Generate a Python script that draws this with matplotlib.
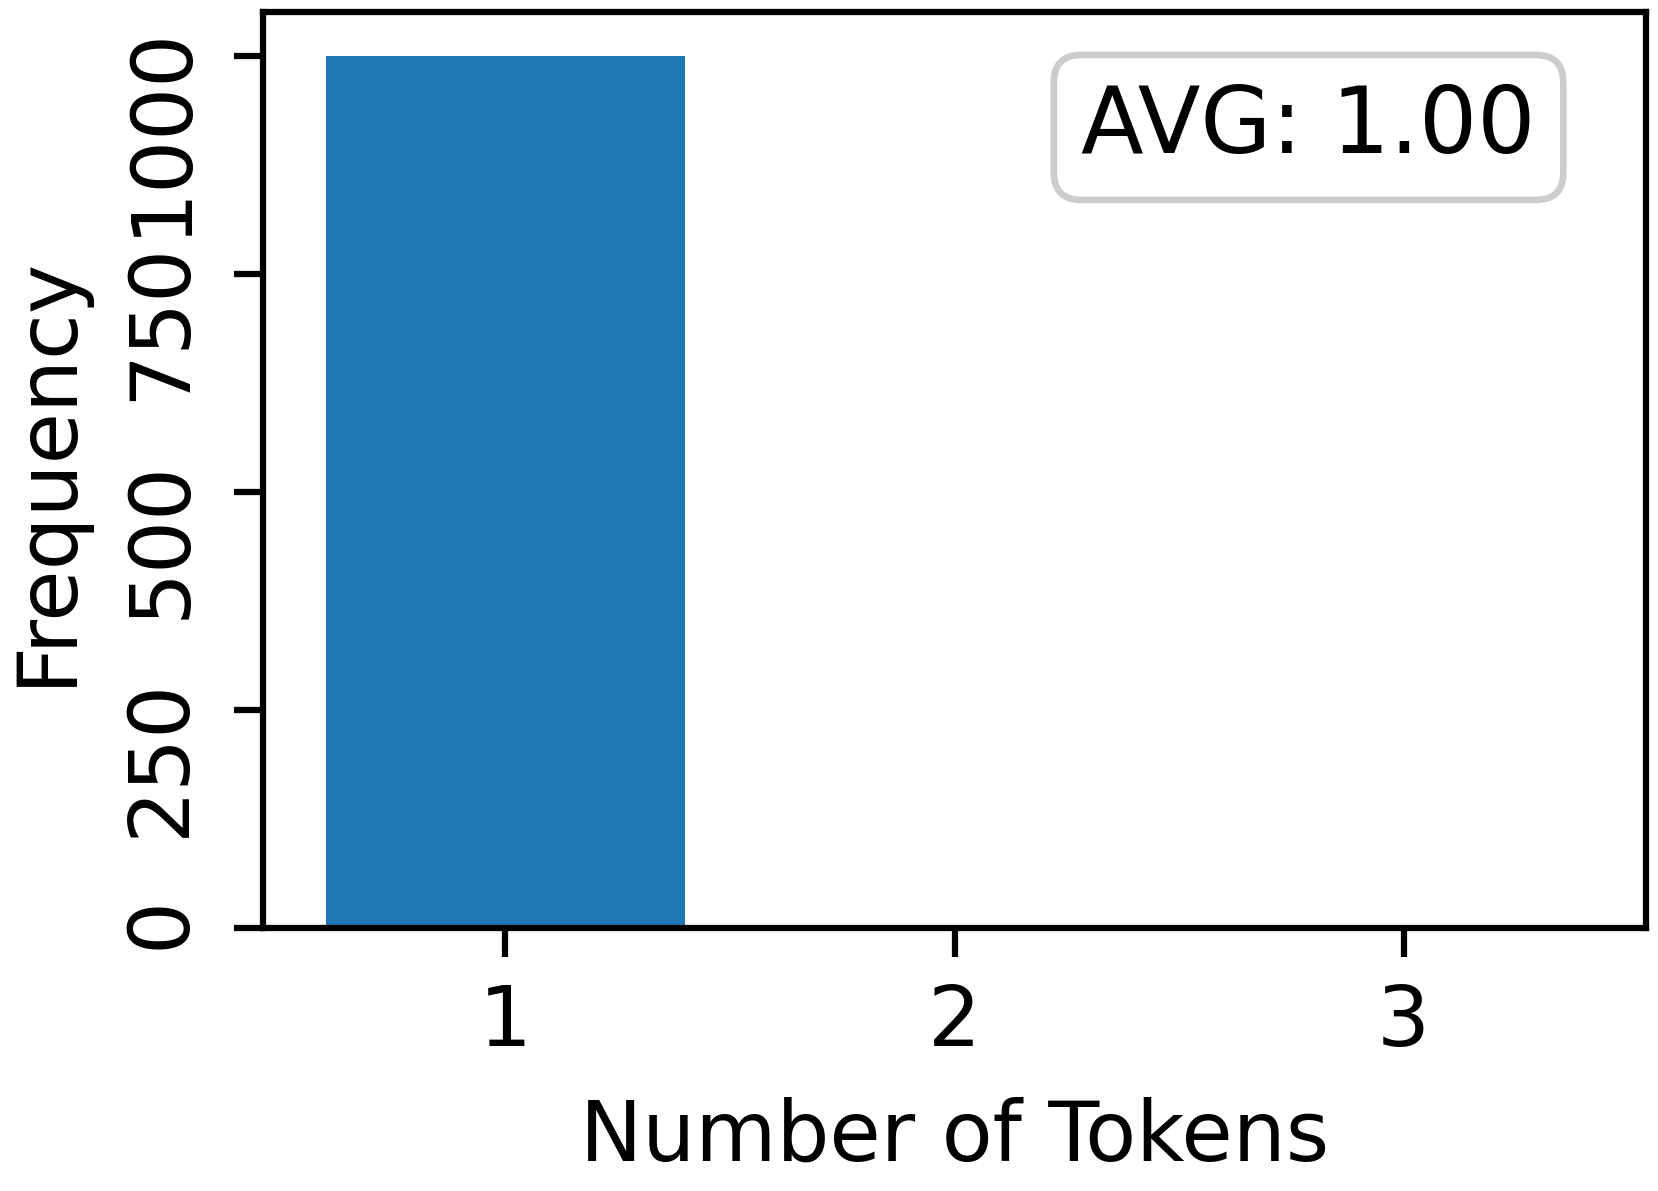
import matplotlib
matplotlib.use("Agg")
import matplotlib.pyplot as plt

# data
tokens = [1, 2, 3]
counts = [1000, 0, 0]
avg_label = "AVG: 1.00"

plt.rcParams['font.family'] = 'DejaVu Sans'
plt.rcParams['axes.linewidth'] = 1.5

fig = plt.figure(figsize=(1658 / 300, 1191 / 300), dpi=300)
ax = fig.add_axes([0.1586, 0.2208, 0.9928 - 0.1586, 0.9899 - 0.2208])

ax.bar(tokens, counts, width=0.8, color='#1f77b4')
ax.set_xticks(tokens)
ax.set_yticks([0, 250, 500, 750, 1000])
ax.tick_params(axis='both', labelsize=20, length=7, width=1.5)
ax.tick_params(axis='x', pad=6)
ax.tick_params(axis='y', pad=7.8)
plt.yticks(rotation=90)

ax.set_xlabel("Number of Tokens", fontsize=20, labelpad=8)
ax.set_ylabel("Frequency", fontsize=20, labelpad=8)

ax.text(0.756, 0.874, avg_label, transform=ax.transAxes, fontsize=22,
        ha='center', va='center',
        bbox=dict(boxstyle='round,pad=0.3', facecolor='white',
                  edgecolor='0.8', linewidth=1.6))

fig.savefig("out.png", dpi=300)
